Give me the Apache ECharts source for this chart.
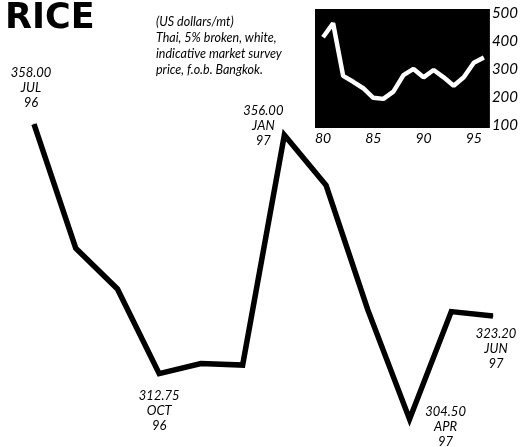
<!DOCTYPE html>
<html>
<head>
<meta charset="utf-8">
<script src="https://cdn.jsdelivr.net/npm/echarts@6/dist/echarts.min.js"></script>
<style>html,body{margin:0;padding:0;background:#fff;}#c{width:521px;height:447px;}</style>
</head>
<body>
<div id="c"></div>
<script>
// Main monthly series (US$/mt), Jul 96 - Jun 97
var months = ['JUL 96','AUG 96','SEP 96','OCT 96','NOV 96','DEC 96','JAN 97','FEB 97','MAR 97','APR 97','MAY 97','JUN 97'];
var prices = [358.00, 335.5, 328.1, 312.75, 314.6, 314.3, 356.00, 346.9, 324.3, 304.50, 324.0, 323.20];
var labelled = [0, 3, 6, 9, 11];
var labelMonth = ['JUL','OCT','JAN','APR','JUN'];
var labelYear = ['96','96','97','97','97'];

// Inset annual series
var years = [1980,1981,1982,1983,1984,1985,1986,1987,1988,1989,1990,1991,1992,1993,1994,1995,1996];
var annual = [413, 463, 275, 254, 231, 197, 193, 219, 278, 300, 270, 296, 270, 240, 270, 322, 341];
var insetYTicks = [100, 200, 300, 400, 500];
var insetXTicks = [1980, 1985, 1990, 1995];

var labelOffsets = [[-3,-36],[0,37],[-21,-9],[36,8],[3,33]];
var F = 'Lato, "Open Sans", sans-serif';

var mainData = prices.map(function(v, i){
  var k = labelled.indexOf(i);
  var item = { value: v };
  if (k >= 0) {
    item.label = {
      show: true,
      position: 'inside',
      offset: labelOffsets[k],
      formatter: v.toFixed(2) + '\n' + labelMonth[k] + '\n' + labelYear[k]
    };
  }
  return item;
});

var chart = echarts.init(document.getElementById('c'), null, {renderer:'canvas'});
chart.setOption({
  backgroundColor: '#fff',
  animation: false,
  title: [
    { text: 'RICE', left: 0, top: -4,
      textStyle: { fontFamily: '"DejaVu Sans", sans-serif', fontWeight: 'bold', fontSize: 35, color: '#000' } },
    { text: '(US dollars/mt)\nThai, 5% broken, white,\nindicative market survey\nprice, f.o.b. Bangkok.', left: 151, top: 9,
      textStyle: { fontFamily: F, fontStyle: 'italic', fontWeight: 'normal', fontSize: 12.5, lineHeight: 16, color: '#000' } }
  ],
  grid: [
    { left: 34, right: 28, top: 113, bottom: 3 },
    { left: 315, right: 30, top: 9, bottom: 319, show: true, backgroundColor: '#000', borderWidth: 0 }
  ],
  xAxis: [
    { gridIndex: 0, type: 'category', data: months, boundaryGap: false, show: false },
    { gridIndex: 1, type: 'value', min: 1979.2, max: 1996.6,
      axisLine: {show:false}, axisTick: {show:false}, splitLine: {show:false},
      axisLabel: { customValues: insetXTicks, margin: 3, formatter: function(v){ return String(v % 100); },
        fontFamily: F, fontStyle: 'italic', fontSize: 14, color: '#000' } }
  ],
  yAxis: [
    { gridIndex: 0, type: 'value', min: 300, max: 360, show: false },
    { gridIndex: 1, type: 'value', position: 'right', min: 89, max: 514,
      axisLine: {show:false}, axisTick: {show:false}, splitLine: {show:false},
      axisLabel: { customValues: insetYTicks, margin: 2, fontFamily: F, fontStyle: 'italic', fontSize: 15, color: '#000' } }
  ],
  series: [
    { type: 'line', xAxisIndex: 0, yAxisIndex: 0, data: mainData,
      symbol: 'circle', symbolSize: 1, itemStyle: { color: '#000' },
      lineStyle: { color: '#000', width: 5.5, join: 'miter' },
      label: { show: false, fontFamily: F, fontStyle: 'italic', fontSize: 13, lineHeight: 15, color: '#000', align: 'center' },
      emphasis: { disabled: true } },
    { type: 'line', xAxisIndex: 1, yAxisIndex: 1,
      data: years.map(function(y, i){ return [y, annual[i]]; }),
      symbol: 'none', lineStyle: { color: '#fff', width: 4.5 }, emphasis: { disabled: true } }
  ]
});
</script>
</body>
</html>
